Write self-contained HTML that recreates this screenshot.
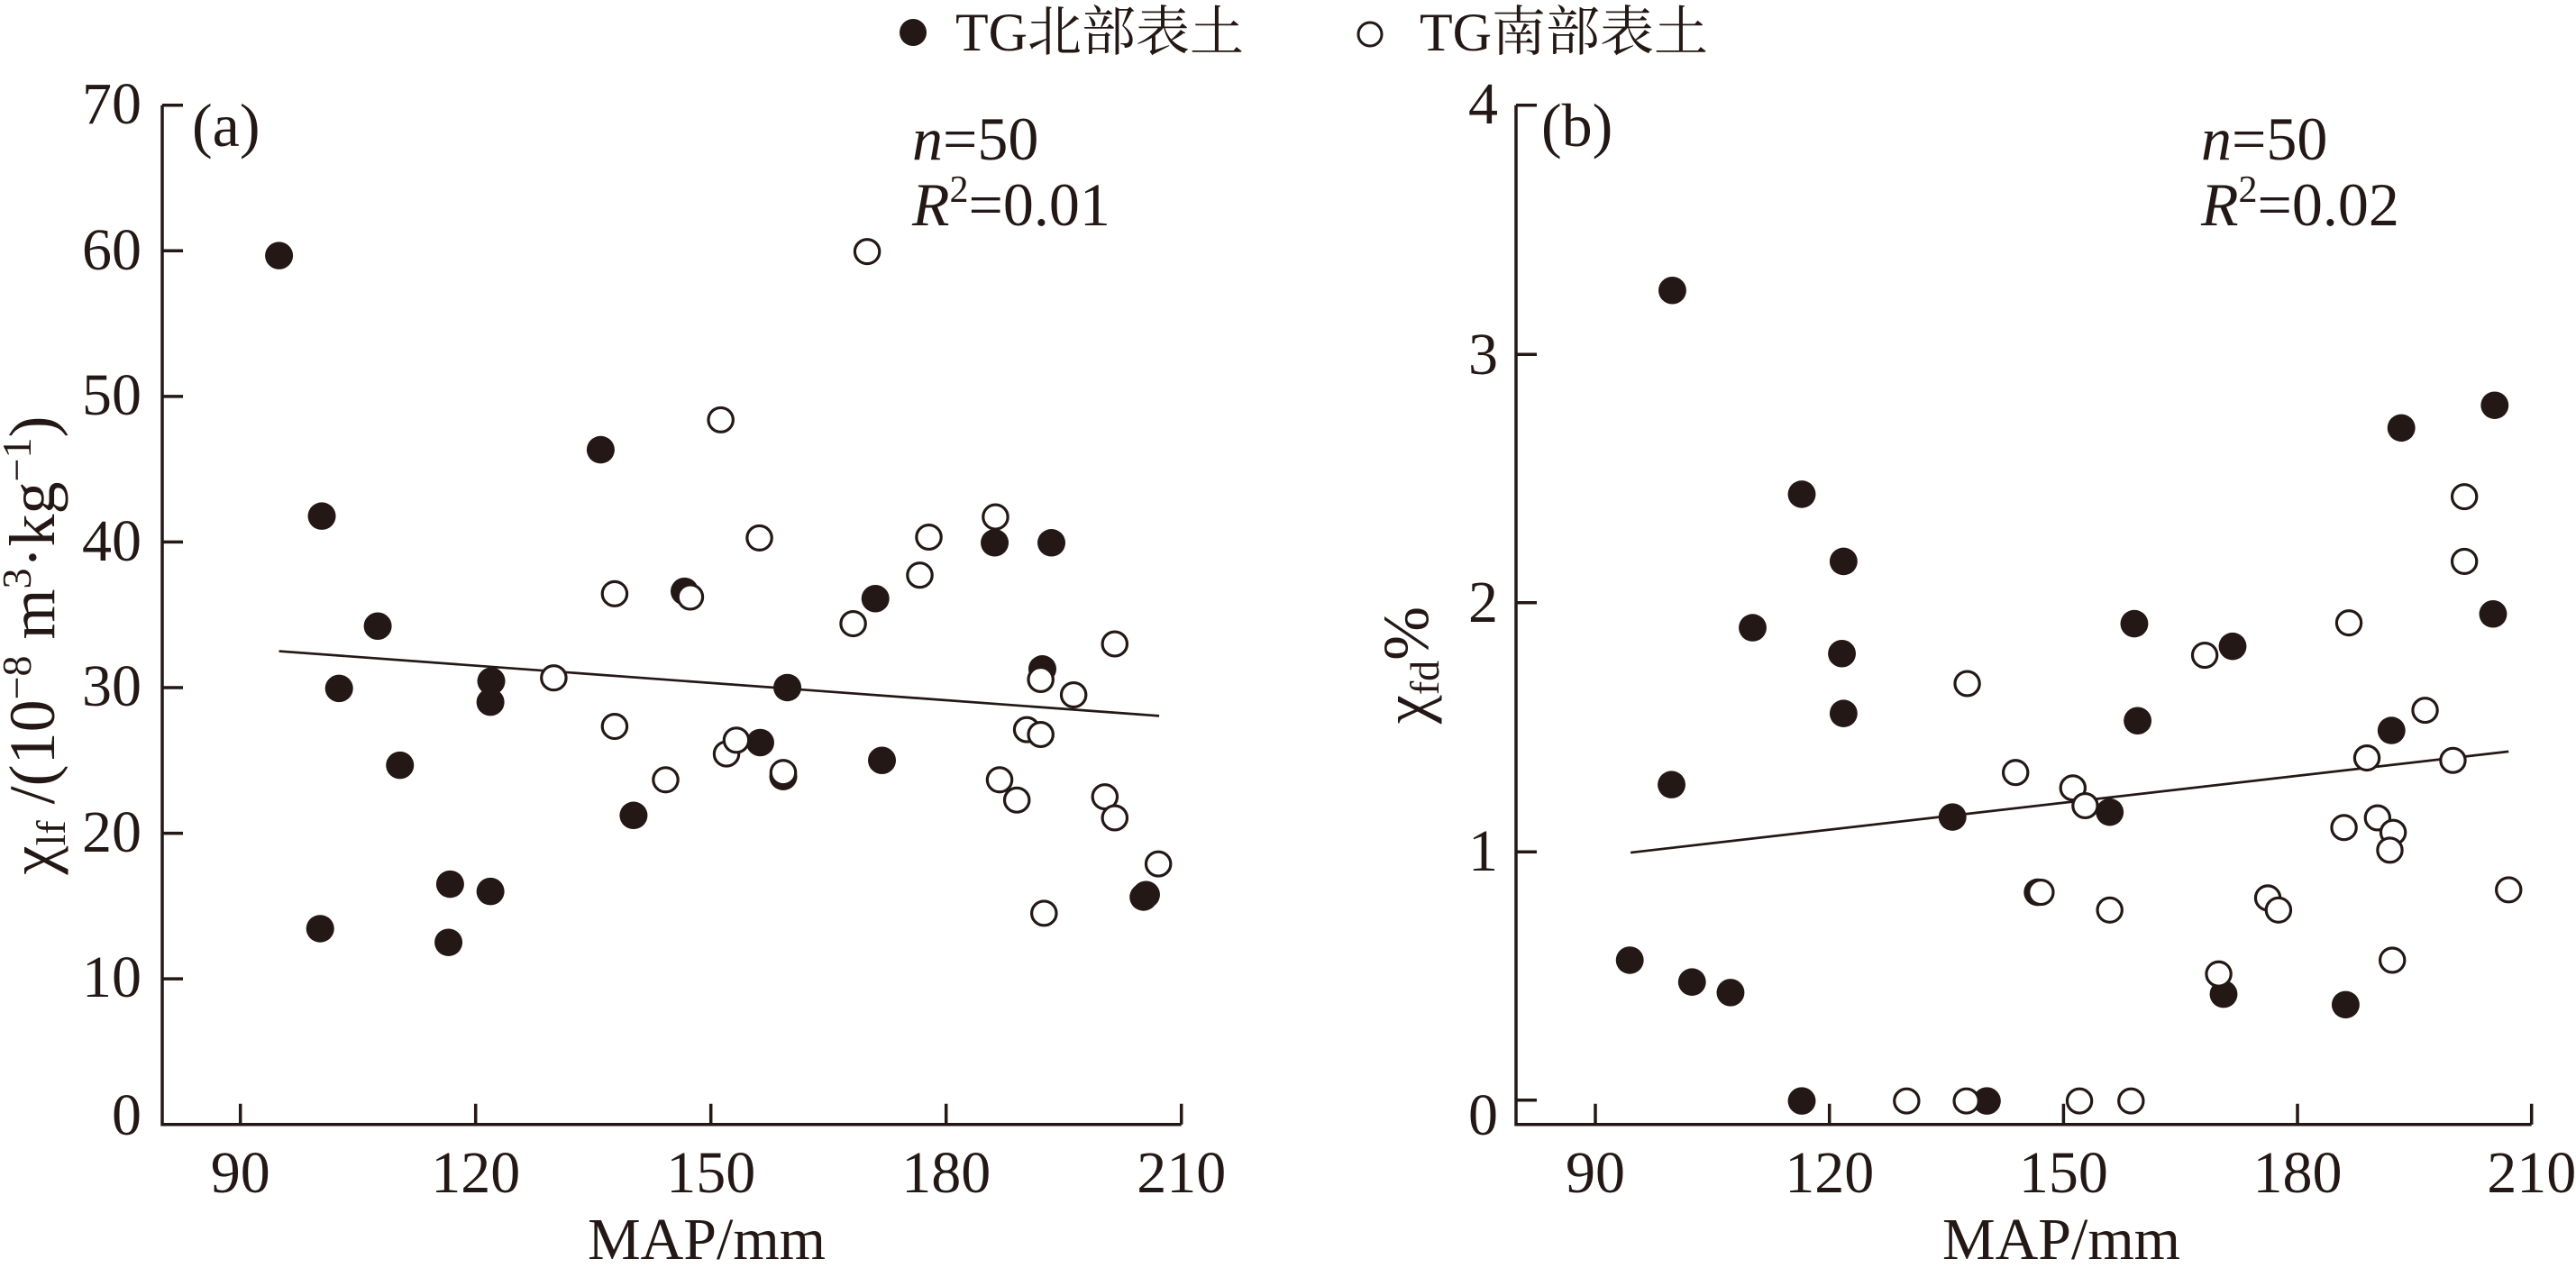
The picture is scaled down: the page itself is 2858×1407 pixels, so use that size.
<!DOCTYPE html>
<html><head><meta charset="utf-8"><style>
html,body{margin:0;padding:0;background:#fff;}
svg{display:block;}
text{font-family:"Liberation Serif","Noto Serif CJK SC",serif;fill:#231815;}
</style></head><body>
<svg width="2858" height="1407" viewBox="0 0 2858 1407" xmlns="http://www.w3.org/2000/svg">
<!-- legend -->
<circle cx="1013" cy="36" r="15" fill="#231815"/>
<text x="1060" y="56" font-size="60">TG北部表土</text>
<circle cx="1520" cy="38" r="13" fill="none" stroke="#231815" stroke-width="3"/>
<text x="1575" y="56" font-size="60">TG南部表土</text>

<!-- panel a axes -->
<g stroke="#231815" stroke-width="3.5" fill="none">
<path d="M180 116.7V1247.7H1310.7"/>
<path d="M180 116.7h23M180 278.3h23M180 439.9h23M180 601.4h23M180 763h23M180 924.6h23M180 1086.1h23"/>
<path d="M266.7 1247.7v-23M527.7 1247.7v-23M788.7 1247.7v-23M1049.7 1247.7v-23M1310.7 1247.7v-23"/>
</g>
<g font-size="66" text-anchor="end">
<text x="157" y="137">70</text><text x="157" y="299">60</text><text x="157" y="460">50</text><text x="157" y="622">40</text><text x="157" y="783">30</text><text x="157" y="945">20</text><text x="157" y="1106">10</text><text x="157" y="1259">0</text>
</g>
<g font-size="66" text-anchor="middle">
<text x="266.7" y="1323">90</text><text x="527.7" y="1323">120</text><text x="788.7" y="1323">150</text><text x="1049.7" y="1323">180</text><text x="1310.7" y="1323">210</text>
<text x="784" y="1397" font-size="66">MAP/mm</text>
</g>
<g font-size="68">
<text x="213" y="162">(a)</text>
<text x="1012" y="177"><tspan font-style="italic">n</tspan>=50</text>
<text x="1012" y="250"><tspan font-style="italic">R</tspan><tspan font-size="42" dy="-26">2</tspan><tspan dy="26">=0.01</tspan></text>
<text transform="translate(60 716) rotate(-90)" text-anchor="middle" font-size="72">χ<tspan font-size="46" dy="12">lf</tspan><tspan dy="-12"> /(10</tspan><tspan font-size="46" dy="-26">−8</tspan><tspan dy="26"> m</tspan><tspan font-size="46" dy="-26">3</tspan><tspan dy="26">·kg</tspan><tspan font-size="46" dy="-26">−1</tspan><tspan dy="26">)</tspan></text>
</g>

<!-- panel b axes -->
<g stroke="#231815" stroke-width="3.5" fill="none">
<path d="M1682 116.7V1247.7H2808.7"/>
<path d="M1682 116.7h23M1682 393.2h23M1682 668.7h23M1682 945.2h23M1682 1220.8h23"/>
<path d="M1770 1247.7v-23M2029.7 1247.7v-23M2289.4 1247.7v-23M2549 1247.7v-23M2808.7 1247.7v-23"/>
</g>
<g font-size="66" text-anchor="end">
<text x="1662" y="137">4</text><text x="1662" y="415">3</text><text x="1662" y="690">2</text><text x="1662" y="966">1</text><text x="1662" y="1259">0</text>
</g>
<g font-size="66" text-anchor="middle">
<text x="1770" y="1323">90</text><text x="2029.7" y="1323">120</text><text x="2289.4" y="1323">150</text><text x="2549" y="1323">180</text><text x="2808.7" y="1323">210</text>
<text x="2287" y="1397" font-size="66">MAP/mm</text>
</g>
<g font-size="68">
<text x="1710" y="162">(b)</text>
<text x="2442" y="177"><tspan font-style="italic">n</tspan>=50</text>
<text x="2442" y="250"><tspan font-style="italic">R</tspan><tspan font-size="42" dy="-26">2</tspan><tspan dy="26">=0.02</tspan></text>
<text transform="translate(1584 738) rotate(-90)" text-anchor="middle" font-size="72">χ<tspan font-size="46" dy="12">fd</tspan><tspan dy="-12">%</tspan></text>
</g>

<!-- panel a data -->
<g transform="matrix(0.9126,0,0,0.8976,-0.7,1.8)" stroke="#231815" fill="#231815">
<path d="M340 803L1410 883" stroke-width="3" fill="none"/>
<g stroke="none">
<circle cx="340" cy="314" r="17"/><circle cx="392" cy="636" r="17"/><circle cx="413" cy="849" r="17"/><circle cx="460" cy="772" r="17"/><circle cx="487" cy="944" r="17"/><circle cx="390" cy="1146" r="17"/><circle cx="548" cy="1091" r="17"/><circle cx="546" cy="1163" r="17"/><circle cx="597" cy="1100" r="17"/><circle cx="598" cy="840" r="17"/><circle cx="597" cy="866" r="17"/><circle cx="731" cy="554" r="17"/><circle cx="833" cy="729" r="17"/><circle cx="771" cy="1006" r="17"/><circle cx="925" cy="916" r="17"/><circle cx="953" cy="958" r="17"/><circle cx="958" cy="848" r="17"/><circle cx="1065" cy="738" r="17"/><circle cx="1073" cy="938" r="17"/><circle cx="1210" cy="669" r="17"/><circle cx="1279" cy="669" r="17"/><circle cx="1268" cy="825" r="17"/><circle cx="1391" cy="1107" r="17"/><circle cx="1394" cy="1104" r="17"/>
</g>
<g fill="#fff" stroke-width="3.5">
<circle cx="1055" cy="309" r="15"/><circle cx="877" cy="517" r="15"/><circle cx="748" cy="732" r="15"/><circle cx="748" cy="896" r="15"/><circle cx="674" cy="836" r="15"/><circle cx="810" cy="962" r="15"/><circle cx="840" cy="736" r="15"/><circle cx="884" cy="930" r="15"/><circle cx="896" cy="913" r="15"/><circle cx="924" cy="663" r="15"/><circle cx="953" cy="953" r="15"/><circle cx="1038" cy="769" r="15"/><circle cx="1119" cy="709" r="15"/><circle cx="1130" cy="662" r="15"/><circle cx="1211" cy="637" r="15"/><circle cx="1216" cy="962" r="15"/><circle cx="1237" cy="987" r="15"/><circle cx="1249" cy="900" r="15"/><circle cx="1266" cy="906" r="15"/><circle cx="1266" cy="838" r="15"/><circle cx="1306" cy="857" r="15"/><circle cx="1356" cy="794" r="15"/><circle cx="1344" cy="983" r="15"/><circle cx="1356" cy="1009" r="15"/><circle cx="1409" cy="1066" r="15"/><circle cx="1270" cy="1127" r="15"/>
</g>
</g>

<!-- panel b data -->
<g transform="matrix(0.9087,0,0,0.8976,1432,1.8)" stroke="#231815" fill="#231815">
<path d="M415 1052L1487 927" stroke-width="3" fill="none"/>
<g stroke="none">
<circle cx="466" cy="357" r="17"/><circle cx="465" cy="968" r="17"/><circle cx="414" cy="1185" r="17"/><circle cx="490" cy="1212" r="17"/><circle cx="537" cy="1225" r="17"/><circle cx="564" cy="774" r="17"/><circle cx="624" cy="609" r="17"/><circle cx="675" cy="692" r="17"/><circle cx="673" cy="806" r="17"/><circle cx="675" cy="880" r="17"/><circle cx="624" cy="1359" r="17"/><circle cx="808" cy="1008" r="17"/><circle cx="850" cy="1359" r="17"/><circle cx="912" cy="1101" r="17"/><circle cx="1000" cy="1002" r="17"/><circle cx="1030" cy="769" r="17"/><circle cx="1034" cy="889" r="17"/><circle cx="1150" cy="797" r="17"/><circle cx="1139" cy="1227" r="17"/><circle cx="1288" cy="1240" r="17"/><circle cx="1344" cy="901" r="17"/><circle cx="1356" cy="527" r="17"/><circle cx="1470" cy="499" r="17"/><circle cx="1468" cy="757" r="17"/>
</g>
<g fill="#fff" stroke-width="3.5">
<circle cx="826" cy="843" r="15"/><circle cx="752" cy="1359" r="15"/><circle cx="825" cy="1359" r="15"/><circle cx="885" cy="953" r="15"/><circle cx="916" cy="1101" r="15"/><circle cx="955" cy="972" r="15"/><circle cx="970" cy="994" r="15"/><circle cx="963" cy="1359" r="15"/><circle cx="1000" cy="1123" r="15"/><circle cx="1026" cy="1359" r="15"/><circle cx="1116" cy="808" r="15"/><circle cx="1133" cy="1202" r="15"/><circle cx="1193" cy="1108" r="15"/><circle cx="1206" cy="1123" r="15"/><circle cx="1286" cy="1021" r="15"/><circle cx="1292" cy="768" r="15"/><circle cx="1314" cy="935" r="15"/><circle cx="1327" cy="1009" r="15"/><circle cx="1346" cy="1027" r="15"/><circle cx="1342" cy="1049" r="15"/><circle cx="1345" cy="1185" r="15"/><circle cx="1385" cy="876" r="15"/><circle cx="1419" cy="938" r="15"/><circle cx="1433" cy="612" r="15"/><circle cx="1433" cy="692" r="15"/><circle cx="1487" cy="1098" r="15"/>
</g>
</g>
</svg>
</body></html>
